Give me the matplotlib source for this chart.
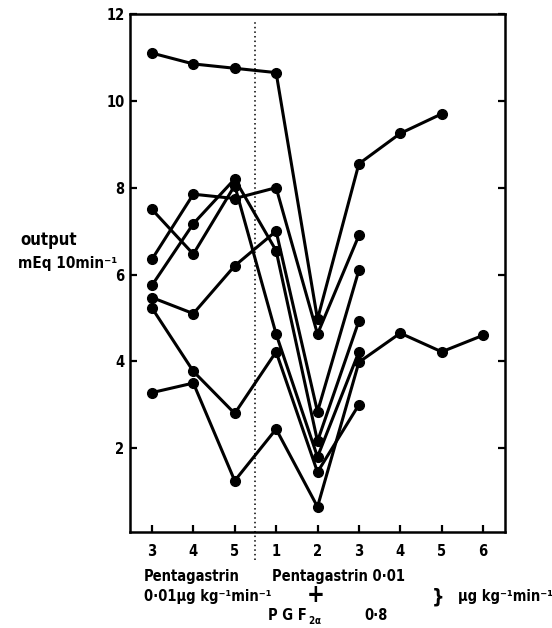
import matplotlib
matplotlib.use("Agg")
import matplotlib.pyplot as plt

# ---------------- data ----------------
x_labels = ["3", "4", "5", "1", "2", "3", "4", "5", "6"]
x_pos = list(range(len(x_labels)))

s1 = [11.1, 10.85, 10.75, 10.65, 4.97, 8.55, 9.25, 9.7]
s2 = [7.5, 6.47, 8.05, 4.63, 1.8, 4.22]
s3 = [6.35, 7.85, 7.75, 8.0, 4.63, 6.9]
s4 = [5.75, 7.17, 8.2, 6.55, 2.16, 4.93]
s5 = [5.47, 5.1, 6.2, 7.0, 2.84, 6.1]
s6 = [5.23, 3.77, 2.8, 4.22, 1.45, 3.0]
s7 = [3.28, 3.5, 1.25, 2.44, 0.65, 3.98, 4.65, 4.22, 4.6]
series = [s1, s2, s3, s4, s5, s6, s7]

y_ticks = [2, 4, 6, 8, 10, 12]

FONT = ["DejaVu Sans"]
plt.rcParams["font.family"] = FONT
plt.rcParams["font.weight"] = "bold"
plt.rcParams["font.stretch"] = "condensed"

W, H = 552, 628
fig = plt.figure(figsize=(W / 100, H / 100), dpi=100)
L, R, T, B = 130, 505, 14, 532
ax = fig.add_axes([L / W, 1 - B / H, (R - L) / W, (B - T) / H])

for s in series:
    ax.plot(x_pos[:len(s)], s, color="black", lw=2.2, marker="o",
            markersize=7, markerfacecolor="black", markeredgecolor="black",
            solid_joinstyle="miter")

ax.set_xlim(-0.53, 8.53)
ax.set_ylim(0.07, 12)
ax.set_xticks(x_pos)
ax.set_xticklabels(x_labels)
ax.set_yticks(y_ticks)
ax.set_yticklabels([str(v) for v in y_ticks])

for sp in ax.spines.values():
    sp.set_linewidth(1.8)
ax.tick_params(axis="both", direction="in", length=5, width=1.6,
               labelsize=10.5)
ax.tick_params(axis="y", right=True, labelright=False, pad=4)
ax.tick_params(axis="x", pad=9)
for lab in ax.get_xticklabels() + ax.get_yticklabels():
    lab.set_fontweight("bold")
    lab.set_fontstretch("condensed")

# dotted divider
ax.plot([2.5, 2.5], [-0.58, 11.85], color="black", lw=1.1,
        linestyle=(0, (1, 2)), clip_on=False)

def ftext(x, y, s, size=10.5, ha="left", va="center", **kw):
    fig.text(x / W, 1 - y / H, s, fontsize=size, ha=ha, va=va,
             fontweight="bold", fontstretch="condensed", family=FONT, **kw)

ftext(20, 240, "output", size=12)
ftext(18, 263, "mEq 10min⁻¹", size=11)

ftext(144, 577, "Pentagastrin")
ftext(144, 597, "0·01µg kg⁻¹min⁻¹")
ftext(272, 577, "Pentagastrin 0·01")
ftext(316, 595, "+", size=17, ha="center")
ftext(268, 615, "P G F")
ftext(308, 620, r"$\mathbf{2\alpha}$", size=7)
ftext(364, 615, "0·8")
ftext(438, 597, "}", size=14, ha="center")
ftext(458, 597, "µg kg⁻¹min⁻¹")

fig.savefig("out.png", dpi=100)
